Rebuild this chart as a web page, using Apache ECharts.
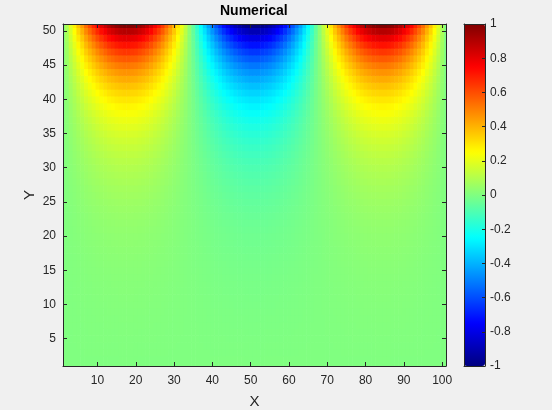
<!DOCTYPE html>
<html>
<head>
<meta charset="utf-8">
<script src="https://cdn.jsdelivr.net/npm/echarts@6/dist/echarts.min.js"></script>
<style>
  html, body { margin: 0; padding: 0; background: #f0f0f0; }
  #chart { width: 552px; height: 410px; }
</style>
</head>
<body>
<div id="chart"></div>
<script>
// top row values (y = 51) for x = 1..101
const topRow = [
  0, 0.09, 0.19, 0.28, 0.37, 0.45, 0.54, 0.61, 0.68, 0.75,
  0.81, 0.86, 0.91, 0.94, 0.97, 0.99, 1, 1, 0.99, 0.98,
  0.95, 0.92, 0.88, 0.83, 0.77, 0.71, 0.64, 0.56, 0.48, 0.40,
  0.31, 0.22, 0.13, 0.03, -0.06, -0.16, -0.25, -0.34, -0.43, -0.51,
  -0.59, -0.66, -0.73, -0.79, -0.84, -0.89, -0.93, -0.96, -0.98, -1,
  -1,
  -1, -0.98, -0.96, -0.93, -0.89, -0.84, -0.79, -0.73, -0.66, -0.59,
  -0.51, -0.43, -0.34, -0.25, -0.16, -0.06, 0.03, 0.13, 0.22, 0.31,
  0.40, 0.48, 0.56, 0.64, 0.71, 0.77, 0.83, 0.88, 0.92, 0.95,
  0.98, 0.99, 1, 1, 0.99, 0.97, 0.94, 0.91, 0.86, 0.81,
  0.75, 0.68, 0.61, 0.54, 0.45, 0.37, 0.28, 0.19, 0.09, 0
];
// how strong the top row is at each row, y = 1..51 (bottom -> top)
const rowScale = [
  0, 0.001, 0.002, 0.003, 0.004, 0.005, 0.006, 0.007, 0.008, 0.010,
  0.011, 0.013, 0.014, 0.016, 0.018, 0.020, 0.023, 0.026, 0.029, 0.032,
  0.036, 0.040, 0.045, 0.051, 0.057, 0.064, 0.071, 0.080, 0.089, 0.099,
  0.111, 0.124, 0.138, 0.154, 0.172, 0.192, 0.214, 0.239, 0.267, 0.298,
  0.333, 0.372, 0.415, 0.463, 0.517, 0.577, 0.644, 0.719, 0.803, 0.896,
  1
];
const xTicks = [10, 20, 30, 40, 50, 60, 70, 80, 90, 100];
const yTicks = [5, 10, 15, 20, 25, 30, 35, 40, 45, 50];
const barTicks = [-1, -0.8, -0.6, -0.4, -0.2, 0, 0.2, 0.4, 0.6, 0.8, 1];
// jet colormap
const jet = ['#000080', '#0000ff', '#0080ff', '#00ffff', '#80ff80', '#ffff00', '#ff8000', '#ff0000', '#800000'];

let cells = [];
rowScale.forEach((s, j) => {
    topRow.forEach((t, i) => {
        cells.push([i + 1, j + 1, t * s]);
    });
});

const ink = '#262626';
const font = 'Liberation Sans, Arial, Helvetica, sans-serif';

function renderCell(params, api) {
    let x = api.value(0);
    let y = api.value(1);
    let p0 = api.coord([x - 0.5, y + 0.5]);
    let p1 = api.coord([x + 0.5, y - 0.5]);
    let rect = echarts.graphic.clipRectByRect(
        {x: p0[0], y: p0[1], width: p1[0] - p0[0] + 0.6, height: p1[1] - p0[1] + 0.6},
        {x: params.coordSys.x, y: params.coordSys.y, width: params.coordSys.width, height: params.coordSys.height}
    );
    return rect && {
        type: 'rect',
        shape: rect,
        style: {fill: api.visual('color')}
    };
}

function frameAxis(extra) {
    return Object.assign({
        type: 'value',
        z: 10,
        splitLine: {show: false},
        axisLine: {show: true, onZero: false, lineStyle: {color: ink, width: 1}},
        axisTick: {show: false},
        axisLabel: {show: false}
    }, extra);
}

let chart = echarts.init(document.getElementById('chart'));
let option = {
    animation: false,
    backgroundColor: '#f0f0f0',
    title: {
        text: 'Numerical',
        left: 220,
        top: 4,
        padding: 0,
        textStyle: {fontFamily: font, fontSize: 14, fontWeight: 'bold', color: '#000'}
    },
    grid: [
        {left: 63, top: 24, width: 383, height: 342, show: true, backgroundColor: '#fff', borderWidth: 0, outerBoundsMode: 'none'},
        {left: 464, top: 24, width: 21, height: 342, show: false, outerBoundsMode: 'none'}
    ],
    xAxis: [
        frameAxis({
            gridIndex: 0, position: 'bottom', min: 1, max: 101,
            axisTick: {show: true, inside: true, length: 4, customValues: xTicks, lineStyle: {color: ink}},
            axisLabel: {show: true, customValues: xTicks, color: ink, fontSize: 12, fontFamily: font, margin: 9},
            name: 'X', nameLocation: 'middle', nameGap: 28, nameMoveOverlap: false,
            nameTextStyle: {color: ink, fontSize: 15, fontFamily: font}
        }),
        frameAxis({
            gridIndex: 0, position: 'top', min: 1, max: 101,
            axisTick: {show: true, inside: true, length: 4, customValues: xTicks, lineStyle: {color: ink}}
        }),
        frameAxis({gridIndex: 1, position: 'bottom', min: 0, max: 1}),
        frameAxis({gridIndex: 1, position: 'top', min: 0, max: 1})
    ],
    yAxis: [
        frameAxis({
            gridIndex: 0, position: 'left', min: 1, max: 51,
            axisTick: {show: true, inside: true, length: 4, customValues: yTicks, lineStyle: {color: ink}},
            axisLabel: {show: true, customValues: yTicks, color: ink, fontSize: 12, fontFamily: font, margin: 7},
            name: 'Y', nameLocation: 'middle', nameGap: 26, nameMoveOverlap: false,
            nameTextStyle: {color: ink, fontSize: 15, fontFamily: font}
        }),
        frameAxis({
            gridIndex: 0, position: 'right', min: 1, max: 51,
            axisTick: {show: true, inside: true, length: 4, customValues: yTicks, lineStyle: {color: ink}}
        }),
        frameAxis({gridIndex: 1, position: 'left', min: -1, max: 1}),
        frameAxis({
            gridIndex: 1, position: 'right', min: -1, max: 1,
            axisTick: {show: true, inside: true, length: 3, customValues: barTicks, lineStyle: {color: ink}},
            axisLabel: {show: true, customValues: barTicks, color: ink, fontSize: 12, fontFamily: font, margin: 5}
        })
    ],
    visualMap: {
        type: 'continuous',
        min: -1,
        max: 1,
        dimension: 2,
        seriesIndex: 0,
        calculable: false,
        hoverLink: false,
        left: 464,
        top: 24,
        padding: 0,
        itemWidth: 21,
        itemHeight: 342,
        inRange: {color: jet}
    },
    series: [
        {
            type: 'custom',
            xAxisIndex: 0,
            yAxisIndex: 0,
            renderItem: renderCell,
            encode: {x: 0, y: 1},
            data: cells
        }
    ]
};
option && chart.setOption(option);
</script>
</body>
</html>
